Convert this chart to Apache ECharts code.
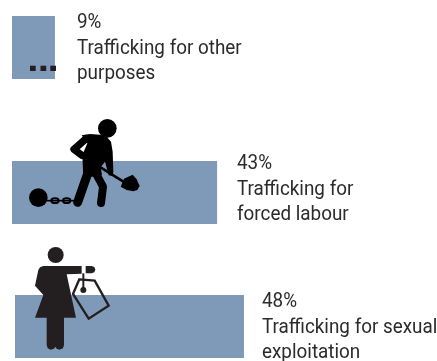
<!DOCTYPE html>
<html><head><meta charset="utf-8">
<style>html,body{margin:0;padding:0;background:#fff}#c{width:437px;height:361px}</style>
<script src="https://cdn.jsdelivr.net/npm/echarts@6/dist/echarts.min.js"></script>
</head><body><div id="c"></div>
<script>
const categories = ['Trafficking for other purposes','Trafficking for forced labour','Trafficking for sexual exploitation'];
const values = [9,43,48];
const percentLabels = ['9%','43%','48%'];
const labelLines = [['Trafficking for other','purposes'],['Trafficking for','forced labour'],['Trafficking for sexual','exploitation']];
const barColor = '#7F9AB9', ink = '#231F20', inkBlack='#000', textColor='#2b2b2b';
const gridTops = [16,161,295], gridLefts=[12,12,15];
const textPos = [[77,23],[237,164],[262,302]];
const lineGap = [0,25.5,50.6];
const chart = echarts.init(document.getElementById('c'),null,{renderer:'canvas'});
const Z=50;
const fill=(points,c)=>({type:'polygon',z:Z,shape:{points},style:{fill:c||ink}});
const line=(points,w,cap,c)=>({type:'polyline',z:Z,shape:{points},style:{fill:null,stroke:c||ink,lineWidth:w,lineCap:cap||'round',lineJoin:'round'}});
const circle=(cx,cy,r,c)=>({type:'circle',z:Z,shape:{cx,cy,r},style:{fill:c||ink}});
const ring=(cx,cy,rx,ry)=>({type:'ellipse',z:Z,shape:{cx,cy,rx,ry},style:{fill:null,stroke:inkBlack,lineWidth:6}});
const worker={type:'group',x:0,y:110,scaleX:1/3,scaleY:1/3,children:[
  circle(322,55,28,inkBlack),
  line([[258,86],[222,118],[246,136]],22,'round',inkBlack),
  fill([[245,76],[270,72],[300,74],[320,80],[333,95],[338,125],[340,185],[338,198],[326,196],[315,155],[302,172],[306,195],[250,205],[247,135],[262,100]],inkBlack),
  line([[265,185],[233,277]],27,'round',inkBlack),
  line([[285,185],[309,230],[303,279]],24,'round',inkBlack),
  line([[298,170],[370,215]],8,'butt',inkBlack),
  fill([[372,206],[398,194],[410,208],[419,228],[412,240],[400,244],[380,240],[362,230]],inkBlack),
  circle(115,263,28,inkBlack),
  line([[140,272],[225,272]],5,'butt',inkBlack),
  ring(165,272,11,7),ring(200,272,11,7)
]};
const woman={type:'group',x:0,y:235,scaleX:1/3,scaleY:1/3,children:[
  circle(167,60,24),
  fill([[130,93],[245,93],[245,116],[200,118],[228,248],[192,248],[192,330],[189,340],[178,344],[170,341],[166,335],[162,341],[152,344],[143,340],[140,330],[140,248],[105,248],[130,180],[105,152],[115,105],[120,97]]),
  fill([[257,93],[275,93],[283,96],[286,104],[283,112],[275,115],[257,115]]),
  line([[250,115],[250,165]],6,'butt'),
  {type:'polygon',z:Z,shape:{points:[[238,133],[284,137],[326,212],[266,251],[219,177]]},style:{fill:null,stroke:ink,lineWidth:7,lineJoin:'miter'}},
  circle(250,165,9)
]};
const dots=[30,40.5,50.3].map(x=>({type:'rect',z:Z,shape:{x,y:65.7,width:5.7,height:5.3},style:{fill:ink}}));
const texts=[];
percentLabels.forEach((p,i)=>{
  [p].concat(labelLines[i]).forEach((t,j)=>{
    texts.push({type:'text',z:Z,x:textPos[i][0],y:textPos[i][1]+lineGap[j],
      scaleX:0.92,
      style:{text:t,fill:textColor,font:'20.5px Roboto',verticalAlign:'middle'}});
  });
});
chart.setOption({
  animation:false,
  backgroundColor:'#fff',
  grid:values.map((v,i)=>({left:gridLefts[i],top:gridTops[i],width:238.5,height:63})),
  xAxis:values.map((v,i)=>({type:'value',gridIndex:i,min:0,max:50,show:false})),
  yAxis:values.map((v,i)=>({type:'category',gridIndex:i,data:[categories[i]],show:false})),
  series:values.map((v,i)=>({type:'bar',xAxisIndex:i,yAxisIndex:i,data:[v],barWidth:'100%',itemStyle:{color:barColor},silent:true})),
  graphic:{elements:[...dots,worker,woman,...texts]}
});
</script></body></html>
